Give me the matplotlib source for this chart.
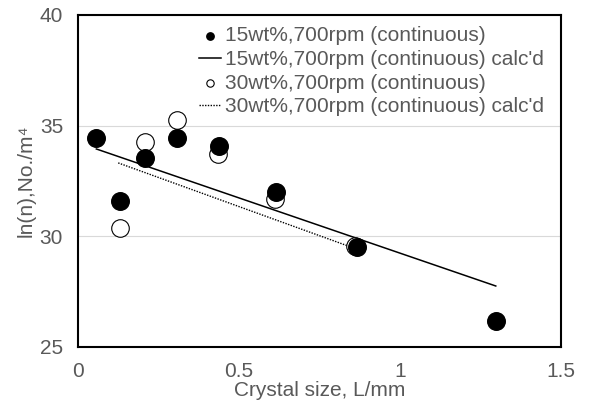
import matplotlib
matplotlib.use("Agg")
import matplotlib.pyplot as plt

plt.rcParams['font.family'] = ['Liberation Sans', 'DejaVu Sans']

# measured data
x15 = [0.056, 0.13, 0.208, 0.307, 0.438, 0.615, 0.866, 1.298]
y15 = [34.44, 31.6, 33.54, 34.44, 34.08, 32.0, 29.52, 26.17]
x30 = [0.13, 0.208, 0.307, 0.435, 0.612, 0.86]
y30 = [30.37, 34.26, 35.26, 33.72, 31.69, 29.56]

# calculated lines (end points)
x15c = [0.056, 1.298]
y15c = [33.94, 27.75]
x30c = [0.124, 0.84]
y30c = [33.31, 29.55]

txt = '#595959'

fig, ax = plt.subplots(figsize=(5.89, 4.01), dpi=100)
fig.subplots_adjust(left=0.133, right=0.952, top=0.963, bottom=0.135)

ax.plot(x15c, y15c, color='black', lw=1.1, label="15wt%,700rpm (continuous) calc'd", zorder=2)
ax.plot(x30c, y30c, color='black', lw=1.0, ls=(0, (1, 1)), label="30wt%,700rpm (continuous) calc'd", zorder=2)
ax.scatter(x30, y30, s=160, facecolors='white', edgecolors='black', linewidths=0.8,
           label='30wt%,700rpm (continuous)', zorder=3)
ax.scatter(x15, y15, s=160, facecolors='black', edgecolors='black',
           label='15wt%,700rpm (continuous)', zorder=4)

ax.set_xlim(0, 1.5)
ax.set_ylim(25, 40)
ax.set_xticks([0, 0.5, 1, 1.5])
ax.set_xticklabels(['0', '0.5', '1', '1.5'])
ax.set_yticks([25, 30, 35, 40])
ax.yaxis.grid(True, color='#d9d9d9', lw=0.8)
ax.set_axisbelow(True)
ax.tick_params(length=0, labelsize=15, labelcolor=txt)
ax.tick_params(axis='x', pad=11)
ax.tick_params(axis='y', pad=11)
for s in ax.spines.values():
    s.set_linewidth(1.5)
    s.set_color('black')

ax.set_xlabel('Crystal size, L/mm', fontsize=15, color=txt, labelpad=0)
ax.set_ylabel('ln(n),No./m\u2074', fontsize=15, color=txt, labelpad=3)

h, l = ax.get_legend_handles_labels()
order = [3, 0, 2, 1]
leg = ax.legend([h[i] for i in order], [l[i] for i in order], loc='upper left',
                frameon=False, fontsize=15, handlelength=1.06, handletextpad=0.2,
                labelspacing=0.22, borderpad=0, borderaxespad=0, markerscale=0.42,
                bbox_to_anchor=(0.25, 0.965))
for t in leg.get_texts():
    t.set_color(txt)

fig.savefig('out.png', dpi=100)
